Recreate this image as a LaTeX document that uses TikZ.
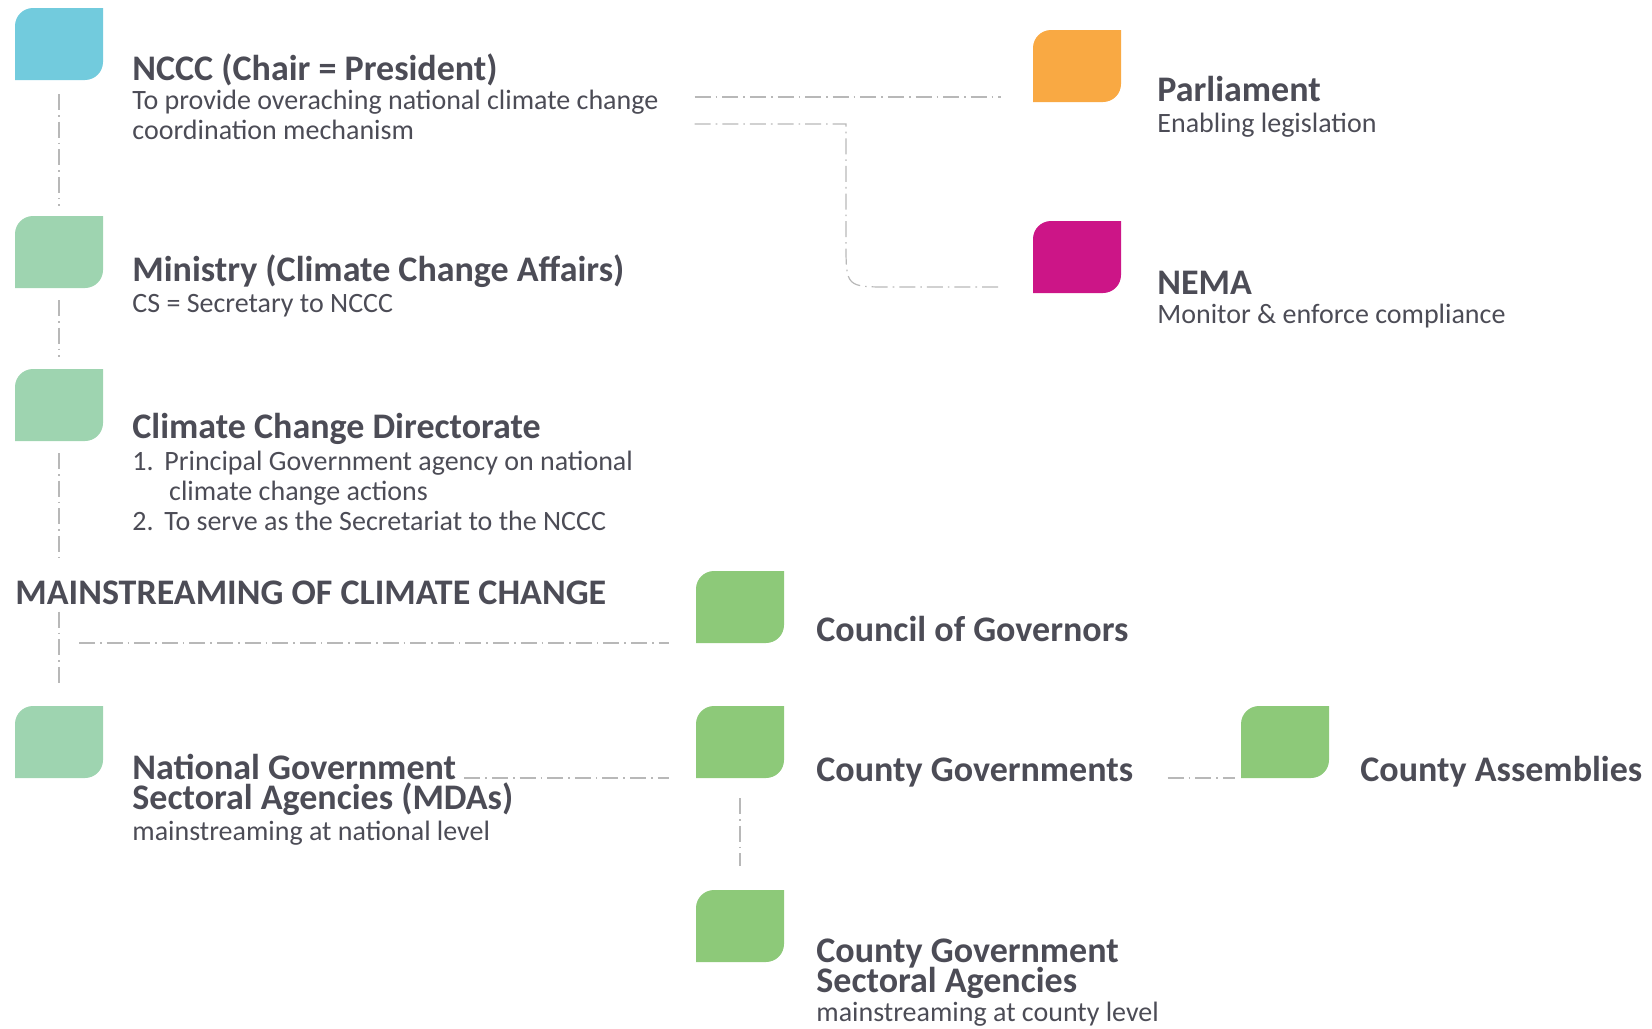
\documentclass[tikz,border=0pt]{standalone}
\usepackage{fontspec}
\setmainfont{Carlito}
\usepackage{tikz}

\definecolor{ncccblue}{HTML}{72CBDD}
\definecolor{mint}{HTML}{9ED4B0}
\definecolor{leafgreen}{HTML}{8DC979}
\definecolor{parlorange}{HTML}{F9A943}
\definecolor{nemapink}{HTML}{CC1587}
\definecolor{ink}{HTML}{4C4C56}
\definecolor{linkgray}{HTML}{B8B8B8}

\begin{document}
\begin{tikzpicture}[x=0.5pt, y=-0.5pt,
  leaf/.style={anchor=north west, minimum width=44pt, minimum height=36pt, inner sep=0pt, outer sep=0pt,
    path picture={\fill[#1] ([yshift=-9pt]path picture bounding box.north west) arc[start angle=180, end angle=90, radius=9pt]
      -- (path picture bounding box.north east) -- ([yshift=9pt]path picture bounding box.south east)
      arc[start angle=0, end angle=-90, radius=9pt] -- (path picture bounding box.south west) -- cycle;}},
  title/.style={anchor=base west, inner sep=0pt, text=ink, font=\fontsize{18}{15.3}\selectfont\bfseries, align=left},
  desc/.style={anchor=base west, inner sep=0pt, text=ink, font=\fontsize{14}{14.8}\selectfont, align=left},
  link/.style={draw=linkgray, line width=0.6pt, dash pattern=on 8pt off 2.5pt on 0.8pt off 2.5pt}]
\useasboundingbox (0,0) rectangle (1652,1028);

% coloured squares
\node [leaf=ncccblue] (b1) at (15,8) {};
\node [leaf=mint] (b2) at (15,216) {};
\node [leaf=mint] (b3) at (15,369) {};
\node [leaf=mint] (b4) at (15,706) {};
\node [leaf=leafgreen] (b5) at (696,571) {};
\node [leaf=leafgreen] (b6) at (696,706) {};
\node [leaf=leafgreen] (b7) at (1241,706) {};
\node [leaf=leafgreen] (b8) at (696,890) {};
\node [leaf=parlorange] (b9) at (1033,30) {};
\node [leaf=nemapink] (b10) at (1033,221) {};

% texts (multi-line nodes sit on their last baseline)
\node [title] (t1) at (132,80) {NCCC (Chair = President)};
\node [desc] (d1) at (132,139) {To provide overaching national climate change\\coordination mechanism};
\node [title] (t2) at (132,281) {Ministry (Climate Change Affairs)};
\node [desc] (d2) at (132,312) {CS = Secretary to NCCC};
\node [title] (t3) at (132,438) {Climate Change Directorate};
\node [desc] (d3) at (132,530) {\makebox[16pt][l]{1.}Principal Government agency on national\\
  \hspace{18.4pt}climate change actions\\\makebox[16pt][l]{2.}To serve as the Secretariat to the NCCC};
\node [title] (head) at (15,604) {MAINSTREAMING OF CLIMATE CHANGE};
\node [title] (t5) at (816,641) {Council of Governors};
\node [title] (t4) at (132,779) {National Government};
\node [title] (t4b) at (132,809) {Sectoral Agencies (MDAs)};
\node [desc] (d4) at (132,840) {mainstreaming at national level};
\node [title] (t6) at (816,781) {County Governments};
\node [title] (t7) at (1360,781) {County Assemblies};
\node [title] (t8) at (816,962) {County Government};
\node [title] (t8b) at (816,992) {Sectoral Agencies};
\node [desc] (d8) at (816,1021) {mainstreaming at county level};
\node [title] (t9) at (1157,101) {Parliament};
\node [desc] (d9) at (1157,132) {Enabling legislation};
\node [title] (t10) at (1157,294) {NEMA};
\node [desc] (d10) at (1157,323) {Monitor \& enforce compliance};

% links
\coordinate (c1) at (b4 |- b5.south);
\coordinate (c2) at (846,124);
\coordinate (p9) at ([yshift=2.5pt]b9.south west);
\coordinate (p10) at ([yshift=3pt]b10.south west);

\draw [link, shorten <=7pt, shorten >=5pt] (b1) -- (b2);
\draw [link, shorten <=6pt, shorten >=6pt] (b2) -- (b3);
\draw [link, shorten <=6pt, shorten >=10.5pt] (b3) -- (b3 |- head.north);
\draw [link, shorten <=3.5pt, shorten >=10.5pt] (b4 |- head.south) -- (b4);
\draw [link, shorten <=10pt, shorten >=13.5pt] (c1) -- (b5.south west);
\draw [link, shorten <=4pt, shorten >=13.5pt] (t4.east |- b6.south) -- (b6.south west);
\draw [link, shorten <=17pt, shorten >=3pt] (t6.east |- b7.south) -- (b7.south west);
\draw [link, shorten <=10pt, shorten >=12pt] (b6) -- (b8);
\draw [link, shorten <=18pt, shorten >=16pt] (d1.east |- p9) -- (p9);
\draw [link, shorten <=18pt, shorten >=16pt] (d1.east |- c2) -- (c2) -- ([yshift=22pt]c2 |- p10)
  .. controls (c2 |- p10) .. ([xshift=22pt]c2 |- p10) -- (p10);
\end{tikzpicture}
\end{document}
